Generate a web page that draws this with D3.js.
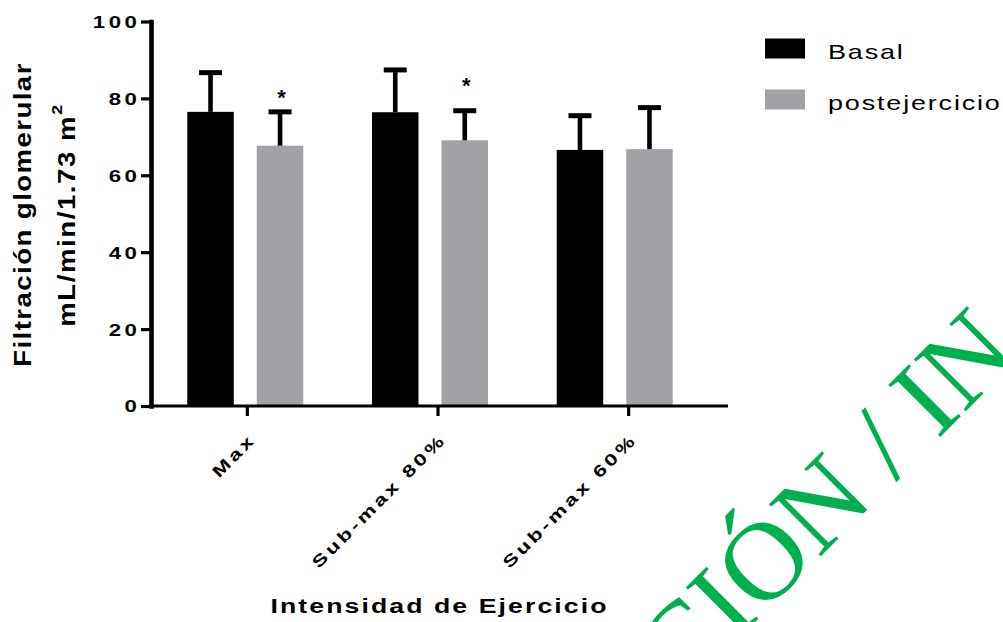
<html>
<head>
  <script src="https://d3js.org/d3.v7.min.js"></script>
  <style>
    body { margin: 0; background: #fff; }
    text { font-family: Arial, "Liberation Sans", sans-serif; fill: #000; }
    .axis .tick text { font-size: 16.5px; font-weight: bold; }
    text.watermark { font-family: "Liberation Serif", "Times New Roman", serif; fill: #00b050; }
  </style>
</head>
<body>
  <svg id="chart" width="1003" height="622"></svg>
  <script>
    // data
    const categories = ["Max", "Sub-max 80%", "Sub-max 60%"];
    const series = ["Basal", "postejercicio"];
    const basalMean = [76.5, 76.4, 66.6];
    const basalSD = [10.2, 11.0, 8.9];
    const postMean = [67.7, 69.1, 66.8];
    const postSD = [8.8, 7.7, 10.8];
    const starLevel = [78.4, 81.3, null];   // "*" over postejercicio
    const yTicks = [0, 20, 40, 60, 80, 100];

    const svg = d3.select("svg#chart");
    const SX = 1.35;   // the figure's font is drawn wide

    const rows = [];
    categories.forEach((c, i) => {
      rows.push({ cat: c, s: series[0], mean: basalMean[i], sd: basalSD[i] });
      rows.push({ cat: c, s: series[1], mean: postMean[i], sd: postSD[i] });
    });

    // scales
    const y = d3.scaleLinear().domain([0, 100]).range([406, 21.5]);
    const xAxisScale = d3.scaleBand().domain(categories).range([152, 724]);
    const x0 = d3.scaleBand().domain(categories).range([152, 708])
      .paddingInner(0.372).paddingOuter(0.191);
    const x1 = d3.scaleBand().domain(series).range([0, x0.bandwidth()])
      .paddingInner(0.331);
    const color = d3.scaleOrdinal().domain(series).range(["#000000", "#a2a2a6"]);

    // bars
    const chartArea = svg.append("g").attr("id", "bars");
    chartArea.selectAll("rect.bar")
      .data(rows)
      .enter()
      .append("rect")
      .attr("class", "bar")
      .attr("x", d => x0(d.cat) + x1(d.s))
      .attr("y", d => y(d.mean))
      .attr("width", x1.bandwidth())
      .attr("height", d => y(0) - y(d.mean))
      .attr("fill", d => color(d.s));

    // error bars, upper half only
    chartArea.selectAll("line.stem")
      .data(rows)
      .enter()
      .append("line")
      .attr("x1", d => x0(d.cat) + x1(d.s) + x1.bandwidth() / 2)
      .attr("x2", d => x0(d.cat) + x1(d.s) + x1.bandwidth() / 2)
      .attr("y1", d => y(d.mean))
      .attr("y2", d => y(d.mean + d.sd))
      .attr("stroke", "#000")
      .attr("stroke-width", 4.6);

    chartArea.selectAll("line.cap")
      .data(rows)
      .enter()
      .append("line")
      .attr("x1", d => x0(d.cat) + x1(d.s) + x1.bandwidth() / 2 - 11.5)
      .attr("x2", d => x0(d.cat) + x1(d.s) + x1.bandwidth() / 2 + 11.5)
      .attr("y1", d => y(d.mean + d.sd))
      .attr("y2", d => y(d.mean + d.sd))
      .attr("stroke", "#000")
      .attr("stroke-width", 5);

    // significance stars
    chartArea.selectAll("text.star")
      .data(categories.filter((c, i) => starLevel[i] != null))
      .enter()
      .append("text")
      .attr("class", "star")
      .attr("transform", d => {
        const i = categories.indexOf(d);
        return `translate(${x0(d) + x1(series[1]) + x1.bandwidth() / 2 + 1.5},${y(starLevel[i])})`;
      })
      .attr("text-anchor", "middle")
      .attr("font-size", "22px")
      .attr("font-weight", "bold")
      .text("*");

    // y axis
    const leftAxis = d3.axisLeft(y).tickValues(yTicks).tickSize(10).tickSizeOuter(0);
    const yAxisG = svg.append("g")
      .attr("class", "y axis")
      .attr("transform", "translate(151,0)")
      .call(leftAxis);
    yAxisG.select(".domain").attr("stroke-width", 4.6).attr("stroke-linecap", "square");
    yAxisG.selectAll(".tick line").attr("stroke-width", 3.2);
    yAxisG.selectAll(".tick text")
      .attr("x", -14 / SX)
      .attr("dx", 2.6)
      .attr("dy", "0.36em")
      .attr("letter-spacing", 2.6)
      .attr("transform", `scale(${SX},1)`);

    // x axis
    const bottomAxis = d3.axisBottom(xAxisScale).tickSize(10).tickSizeOuter(0);
    const xAxisG = svg.append("g")
      .attr("class", "x axis")
      .attr("transform", "translate(0,406)")
      .call(bottomAxis);
    xAxisG.select(".domain").remove();
    xAxisG.append("line")
      .attr("x1", 149).attr("x2", xAxisScale.range()[1] + 4)
      .attr("stroke", "#000").attr("stroke-width", 3.2);
    xAxisG.selectAll(".tick line").attr("stroke-width", 3.2);
    xAxisG.selectAll(".tick text")
      .attr("x", 0).attr("y", 0).attr("dy", null)
      .attr("dx", 2.5)
      .attr("letter-spacing", 2.5)
      .attr("text-anchor", "end")
      .attr("font-size", "17px")
      .attr("transform", `translate(7,37) rotate(-45) scale(${SX},1)`);

    // axis titles
    svg.append("text")
      .attr("transform", "translate(439.5,613) scale(1.3,1)")
      .attr("text-anchor", "middle")
      .attr("font-size", "20.5px")
      .attr("font-weight", "bold")
      .attr("letter-spacing", 1.6)
      .text("Intensidad de Ejercicio");

    svg.append("text")
      .attr("transform", "translate(30.5,214.5) rotate(-90) scale(1.2,1)")
      .attr("text-anchor", "middle")
      .attr("font-size", "23px")
      .attr("font-weight", "bold")
      .attr("letter-spacing", 1.2)
      .text("Filtración glomerular");

    const yt2 = svg.append("text")
      .attr("transform", "translate(75,215) rotate(-90) scale(1.2,1)")
      .attr("text-anchor", "middle")
      .attr("font-size", "23px")
      .attr("font-weight", "bold")
      .attr("letter-spacing", 1.3);
    yt2.append("tspan").text("mL/min/1.73 m");
    yt2.append("tspan").attr("dy", -13).attr("font-size", "15px").text("2");

    // legend
    const legend = svg.append("g").attr("class", "legendGroup")
      .attr("transform", "translate(765,38.5)");
    const legendItems = legend.selectAll(".legendItem")
      .data(series)
      .enter()
      .append("g")
      .attr("class", "legendItem")
      .attr("transform", (d, i) => `translate(0,${i * 51})`);
    legendItems.append("rect")
      .attr("width", 40).attr("height", 20)
      .attr("fill", d => color(d));
    legendItems.append("text")
      .attr("transform", `translate(63,20) scale(${SX},1)`)
      .attr("font-size", "20px")
      .attr("letter-spacing", 1.35)
      .text(d => d);

    // green watermark over the page
    svg.append("text")
      .attr("class", "watermark")
      .attr("transform", "translate(682,695) rotate(-45)")
      .attr("font-size", "112px")
      .text("CIÓN / IN");
  </script>
</body>
</html>
